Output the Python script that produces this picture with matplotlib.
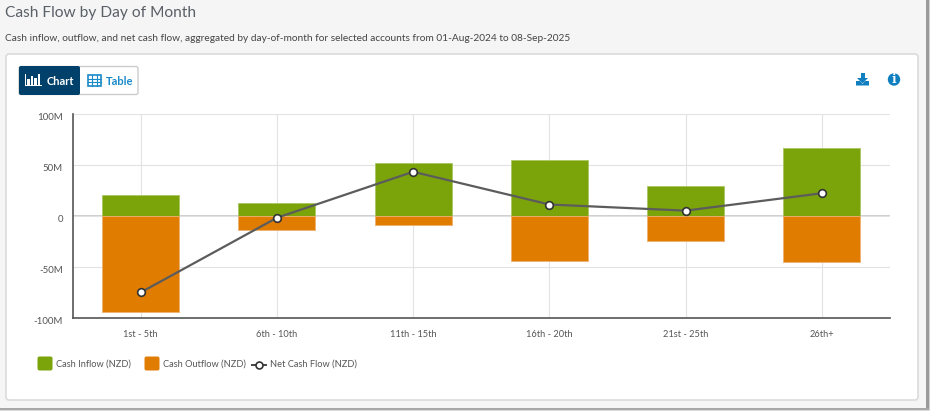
import matplotlib
matplotlib.use("Agg")
import matplotlib.pyplot as plt
from matplotlib.patches import Rectangle, FancyBboxPatch, Circle, Polygon
from matplotlib.transforms import ScaledTranslation

plt.rcParams['font.family'] = ['Lato', 'DejaVu Sans']

# Data
categories = ["1st - 5th", "6th - 10th", "11th - 15th", "16th - 20th", "21st - 25th", "26th+"]
cash_inflow = [20, 12, 52, 55, 29, 66]
cash_outflow = [-94, -14, -9, -44, -25, -45]
net_cash_flow = [-75, -2, 43, 11, 5, 22]
y_ticks = [-100, -50, 0, 50, 100]
y_tick_labels = ["-100M", "-50M", "0", "50M", "100M"]

W, H = 931, 412
green = "#7ba30a"
orange = "#e07c00"
navy = "#00416b"
blue = "#0f7fc0"
grey_text = "#555555"

fig = plt.figure(figsize=(W / 100, H / 100), dpi=100, facecolor="#f5f5f5")

# Page layer in pixel coordinates
bg = fig.add_axes([0, 0, 1, 1])
bg.set_xlim(0, W)
bg.set_ylim(H, 0)
bg.axis("off")

# Screenshot shadow along the right and bottom edges
bg.add_patch(Rectangle((926, 0), 5, H, fc="white", ec="none"))
bg.add_patch(Rectangle((0, 408), W, 4, fc="white", ec="none"))
bg.add_patch(Rectangle((926, 0), 2.5, 410, fc="#9a9a9a", ec="none"))
bg.add_patch(Rectangle((928.5, 0), 1.5, 410, fc="#d0d0d0", ec="none"))
bg.add_patch(Rectangle((0, 408), 928.5, 1.5, fc="#a8a8a8", ec="none"))
bg.add_patch(Rectangle((0, 409.5), 930, 1.2, fc="#dcdcdc", ec="none"))

bg.add_patch(FancyBboxPatch((6, 54), 912, 346, boxstyle="round,pad=0,rounding_size=3",
                            fc="white", ec="#d8d8d8", lw=1.1))

bg.text(5, 13, "Cash Flow by Day of Month", fontsize=11.2, color="#5a6068", va="center")
bg.text(5, 38.5, "Cash inflow, outflow, and net cash flow, aggregated by day-of-month "
        "for selected accounts from 01-Aug-2024 to 08-Sep-2025",
        fontsize=7.27, color="#444444", va="center")

# Chart / Table toggle
bg.add_patch(FancyBboxPatch((19, 66.5), 119, 28, boxstyle="round,pad=0,rounding_size=2",
                            fc="white", ec="#cccccc", lw=1))
bg.add_patch(FancyBboxPatch((19, 66), 61, 29, boxstyle="round,pad=0,rounding_size=2",
                            fc=navy, ec="none"))
for x, top in zip([27, 30.5, 34, 37.5], [79, 76, 78, 74]):
    bg.add_patch(Rectangle((x, top), 2.6, 85 - top, fc="white", ec="none"))
bg.add_patch(Rectangle((25, 85), 17, 1.2, fc="white", ec="none"))
bg.add_patch(Rectangle((25, 74), 1.2, 12, fc="white", ec="none"))
bg.text(47, 81, "Chart", fontsize=8, color="white", fontweight="bold", va="center")

bg.add_patch(Rectangle((88, 75), 13, 11, fc="none", ec="#1a8ac8", lw=1.2))
for x in [92.3, 96.6]:
    bg.plot([x, x], [75, 86], color="#1a8ac8", lw=0.8)
for y in [78.5, 82]:
    bg.plot([88, 101], [y, y], color="#1a8ac8", lw=0.8)
bg.text(106, 81, "Table", fontsize=8, color="#1a8ac8", fontweight="bold", va="center")

# Download and info icons
bg.add_patch(Rectangle((860.5, 73), 4, 5, fc=blue, ec="none"))
bg.add_patch(Polygon([[857, 78], [868, 78], [862.5, 83.5]], fc=blue, ec="none"))
bg.add_patch(Polygon([[856, 81], [860, 81], [862.5, 84], [865, 81], [869, 81],
                      [869, 85.5], [856, 85.5]], fc=blue, ec="none"))
bg.add_patch(Circle((894, 79.5), 6.2, fc=blue, ec="none"))
bg.text(894, 79.5, "i", fontsize=8.5, color="white", fontweight="bold",
        family="DejaVu Serif", ha="center", va="center")

# Chart
ax = fig.add_axes([72.5 / W, 1 - 318 / H, (890 - 72.5) / W, (318 - 113.5) / H])
ax.patch.set_alpha(0)
x_pos = list(range(len(categories)))

ax.bar(x_pos, cash_inflow, width=0.565, color=green, edgecolor="#a9c563", linewidth=0.6,
       label="Cash Inflow (NZD)", zorder=3)
ax.bar(x_pos, cash_outflow, width=0.565, color=orange, edgecolor="#eeb070", linewidth=0.6,
       label="Cash Outflow (NZD)", zorder=3)
ax.plot(x_pos, net_cash_flow, color="#5c5c5c", lw=1.6, marker="o", ms=5.5,
        mfc="white", mec="#333333", mew=1.2, label="Net Cash Flow (NZD)", zorder=4)

ax.set_xlim(-0.5, 5.5)
ax.set_ylim(-100, 100)
ax.set_xticks(x_pos)
ax.set_xticklabels(categories, fontsize=6.7, color=grey_text)
ax.set_yticks(y_ticks)
ax.set_yticklabels(y_tick_labels, fontsize=7, color=grey_text)
ax.tick_params(axis="both", length=0)
ax.tick_params(axis="x", pad=8.5)
ax.tick_params(axis="y", pad=7)
# y labels sit a little under their gridlines
shift = ScaledTranslation(0, -3 / 100, fig.dpi_scale_trans)
for lab in ax.get_yticklabels():
    lab.set_transform(lab.get_transform() + shift)

ax.grid(True, color="#e2e2e2", lw=0.8, zorder=0)
ax.axhline(0, color="#cccccc", lw=1.3, zorder=1)
for side in ["top", "right"]:
    ax.spines[side].set_visible(False)
ax.spines["left"].set_color("#555555")
ax.spines["bottom"].set_color("#555555")
ax.spines["left"].set_linewidth(1.2)
ax.spines["bottom"].set_linewidth(1.2)

# Legend
bg.add_patch(FancyBboxPatch((37.5, 356.5), 15, 14, boxstyle="round,pad=0,rounding_size=2",
                            fc=green, ec="none"))
bg.text(56, 364.5, "Cash Inflow (NZD)", fontsize=6.65, color=grey_text, va="center")
bg.add_patch(FancyBboxPatch((144.5, 356.5), 15, 14, boxstyle="round,pad=0,rounding_size=2",
                            fc=orange, ec="none"))
bg.text(163, 364.5, "Cash Outflow (NZD)", fontsize=6.65, color=grey_text, va="center")
bg.plot([252, 266], [364.5, 364.5], color="#444444", lw=1.4)
bg.plot([259], [364.5], marker="o", ms=5, mfc="white", mec="#333333", mew=1.2)
bg.text(270, 364.5, "Net Cash Flow (NZD)", fontsize=6.65, color=grey_text, va="center")

fig.savefig("out.png", dpi=100, facecolor=fig.get_facecolor())
